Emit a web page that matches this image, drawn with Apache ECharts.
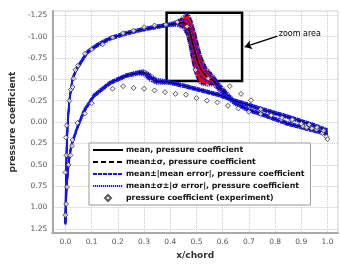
<!DOCTYPE html>
<html>
<head>
<meta charset="utf-8">
<script src="https://cdn.jsdelivr.net/npm/echarts@6/dist/echarts.min.js"></script>
<style>
  html, body { margin: 0; padding: 0; background: #fff; }
  #chart { width: 340px; height: 265px; }
</style>
</head>
<body>
<div id="chart"></div>
<script>
// upper surface (suction side)
const UPPER_X = [0, 0.002, 0.005, 0.009, 0.015, 0.027, 0.04, 0.059, 0.084, 0.121, 0.171, 0.233, 0.296, 0.358, 0.396, 0.427, 0.45, 0.464, 0.475, 0.483, 0.496, 0.508, 0.52, 0.539, 0.564, 0.589, 0.62, 0.645, 0.7, 0.75, 0.85, 0.95, 1.0]
const UPPER_CP = [1.18, 0.7, 0.3, 0.0, -0.25, -0.5, -0.61, -0.7, -0.82, -0.9, -0.98, -1.04, -1.086, -1.12, -1.14, -1.155, -1.165, -1.14, -1.05, -0.95, -0.8, -0.68, -0.6, -0.53, -0.49, -0.4, -0.305, -0.23, -0.14, -0.09, 0.02, 0.1, 0.14]
const UPPER_SIGMA = [0.003, 0.003, 0.003, 0.003, 0.003, 0.003, 0.003, 0.003, 0.003, 0.003, 0.003, 0.003, 0.003, 0.003, 0.003, 0.02, 0.06, 0.12, 0.18, 0.22, 0.23, 0.2, 0.15, 0.09, 0.05, 0.035, 0.025, 0.015, 0.005, 0.003, 0.003, 0.003, 0.003]
const UPPER_MEAN_ERR = [0.015, 0.015, 0.015, 0.015, 0.015, 0.015, 0.015, 0.015, 0.015, 0.015, 0.015, 0.015, 0.015, 0.015, 0.015, 0.015, 0.03, 0.06, 0.09, 0.11, 0.11, 0.1, 0.08, 0.05, 0.03, 0.02, 0.015, 0.015, 0.015, 0.015, 0.015, 0.015, 0.015]
const UPPER_SIGMA_ERR = [0.015, 0.015, 0.015, 0.015, 0.015, 0.015, 0.015, 0.015, 0.015, 0.015, 0.015, 0.015, 0.015, 0.015, 0.015, 0.015, 0.015, 0.015, 0.015, 0.015, 0.015, 0.015, 0.015, 0.015, 0.015, 0.015, 0.015, 0.015, 0.015, 0.015, 0.015, 0.015, 0.015]

// lower surface
const LOWER_X = [0, 0.004, 0.01, 0.015, 0.021, 0.027, 0.046, 0.071, 0.109, 0.171, 0.233, 0.283, 0.3, 0.32, 0.346, 0.396, 0.458, 0.52, 0.583, 0.62, 0.645, 0.7, 0.75, 0.85, 0.95, 1.0]
const LOWER_CP = [1.18, 0.8, 0.55, 0.42, 0.3, 0.23, 0.06, -0.13, -0.31, -0.46, -0.545, -0.58, -0.575, -0.53, -0.48, -0.465, -0.42, -0.37, -0.32, -0.28, -0.25, -0.2, -0.15, -0.06, 0.04, 0.1]
const LOWER_SIGMA = [0.003, 0.003, 0.003, 0.003, 0.003, 0.003, 0.003, 0.003, 0.003, 0.003, 0.003, 0.01, 0.02, 0.03, 0.02, 0.005, 0.003, 0.003, 0.003, 0.003, 0.003, 0.003, 0.003, 0.003, 0.003, 0.003]
const LOWER_MEAN_ERR = [0.015, 0.015, 0.015, 0.015, 0.015, 0.015, 0.015, 0.015, 0.015, 0.015, 0.015, 0.015, 0.015, 0.015, 0.015, 0.015, 0.015, 0.015, 0.015, 0.015, 0.015, 0.015, 0.015, 0.015, 0.015, 0.015]
const LOWER_SIGMA_ERR = [0.015, 0.015, 0.015, 0.015, 0.015, 0.015, 0.015, 0.015, 0.015, 0.015, 0.015, 0.015, 0.015, 0.015, 0.015, 0.015, 0.015, 0.015, 0.015, 0.015, 0.015, 0.015, 0.015, 0.015, 0.015, 0.015]

// experiment
const EXP_X = [0.0, 0.003, 0.006, 0.0, 0.012, 0.004, 0.019, 0.025, 0.027, 0.002, 0.005,
  0.015, 0.021, 0.027, 0.031, 0.038, 0.048, 0.075, 0.10, 0.142, 0.18, 0.22, 0.26, 0.30, 0.34, 0.383, 0.427, 0.464,
  0.496, 0.545, 0.627, 0.67, 0.708, 0.745, 0.783, 0.824, 0.864, 0.906, 0.92, 0.94, 0.958, 0.98, 0.996, 1.0,
  0.046, 0.074, 0.10, 0.18, 0.22, 0.26, 0.30, 0.34, 0.38, 0.42, 0.46, 0.50, 0.54, 0.58, 0.62, 0.66, 0.70, 0.745, 0.785, 0.826, 0.866, 0.90, 0.93, 0.96, 0.985]
const EXP_CP = [1.09, 0.96, 0.76, 0.59, 0.50, 0.39, 0.39, 0.28, 0.21, 0.18, 0.04,
  -0.25, -0.38, -0.41, -0.51, -0.61, -0.66, -0.80, -0.85, -0.91, -0.99, -1.04, -1.07, -1.11, -1.13, -1.14, -1.17, -1.12,
  -0.61, -0.51, -0.42, -0.33, -0.255, -0.15, -0.08, -0.03, -0.02, 0.05, 0.065, 0.076, 0.088, 0.13, 0.17, 0.2,
  0.01, -0.10, -0.22, -0.39, -0.42, -0.40, -0.39, -0.37, -0.35, -0.33, -0.32, -0.28, -0.25, -0.23, -0.19, -0.16, -0.12, -0.095, -0.08, -0.05, -0.03, 0.02, 0.03, 0.06, 0.1]

const X_TICKS = [0, 0.1, 0.2, 0.3, 0.4, 0.5, 0.6, 0.7, 0.8, 0.9, 1.0]
const Y_TICKS = [-1.25, -1.0, -0.75, -0.5, -0.25, 0, 0.25, 0.5, 0.75, 1.0, 1.25]

// zoom box corners and arrow (data coords)
const ZOOM_BOX = [[0.386, -1.28], [0.674, -0.48]]
const ARROW = [[0.809, -1.006], [0.684, -0.88]]

const N_MEAN = 'mean, pressure coefficient'
const N_SIG = 'mean±σ, pressure coefficient'
const N_ERR = 'mean±|mean error|, pressure coefficient'
const N_SERR = 'mean±σ±|σ error|, pressure coefficient'
const N_EXP = 'pressure coefficient (experiment)'

const FONT = 'DejaVu Sans'
const BLUE = '#1414ff'

function surface(xs, cp, sig, merr, serr) {
  const pts = f => xs.map((x, i) => [x, f(i)])
  const line = (name, data, color, type, width) => ({
    name: name,
    type: 'line',
    data: data,
    showSymbol: false,
    lineStyle: { color: color, type: type, width: width },
    itemStyle: { color: color },
    silent: true
  })
  return [
    {
      // red fill between mean-σ and mean+σ
      name: 'band',
      type: 'custom',
      silent: true,
      data: pts(i => cp[i]),
      encode: { x: 0, y: 1 },
      renderItem: (params, api) => {
        if (params.dataIndex !== 0) return null
        const top = xs.map((x, i) => api.coord([x, cp[i] + sig[i]]))
        const bot = xs.map((x, i) => api.coord([x, cp[i] - sig[i]])).reverse()
        return { type: 'polygon', shape: { points: top.concat(bot) }, style: { fill: '#ff0000' } }
      }
    },
    line(N_MEAN, pts(i => cp[i]), '#000', 'solid', 1.6),
    line(N_SIG, pts(i => cp[i] + sig[i]), '#000', [5, 3], 1.3),
    line(N_SIG, pts(i => cp[i] - sig[i]), '#000', [5, 3], 1.3),
    line(N_ERR, pts(i => cp[i] + merr[i]), BLUE, [4, 1], 1.8),
    line(N_ERR, pts(i => cp[i] - merr[i]), BLUE, [4, 1], 1.8),
    line(N_SERR, pts(i => cp[i] + sig[i] + serr[i]), BLUE, [1.2, 0.8], 1.4),
    line(N_SERR, pts(i => cp[i] - sig[i] - serr[i]), BLUE, [1.2, 0.8], 1.4)
  ]
}

const chart = echarts.init(document.getElementById('chart'))

const upper = surface(UPPER_X, UPPER_CP, UPPER_SIGMA, UPPER_MEAN_ERR, UPPER_SIGMA_ERR)
const lower = surface(LOWER_X, LOWER_CP, LOWER_SIGMA, LOWER_MEAN_ERR, LOWER_SIGMA_ERR)

// annotations ride on the upper mean line
upper[1].markArea = {
  silent: true,
  itemStyle: { color: 'rgba(0,0,0,0)', borderColor: '#000', borderWidth: 2.5 },
  data: [[{ coord: ZOOM_BOX[0] }, { coord: ZOOM_BOX[1] }]]
}
upper[1].markLine = {
  silent: true,
  symbol: ['none', 'arrow'],
  symbolSize: 7,
  lineStyle: { color: '#000', width: 1.5, type: 'solid' },
  label: { show: false },
  data: [[{ coord: ARROW[0] }, { coord: ARROW[1] }]]
}
upper[1].markPoint = {
  silent: true,
  symbol: 'circle',
  symbolSize: 0,
  label: {
    show: true, position: 'right', distance: 1, formatter: 'zoom area',
    color: '#000', fontFamily: FONT, fontSize: 8
  },
  data: [{ coord: [0.81, -1.03] }]
}

const series = upper.concat(lower).concat([
  {
    name: N_EXP,
    type: 'scatter',
    data: EXP_X.map((x, i) => [x, EXP_CP[i]]),
    symbol: 'diamond',
    symbolSize: 5,
    itemStyle: { color: '#f0f0f0', borderColor: '#333', borderWidth: 1 },
    z: 5,
    silent: true
  }
])

// legend line entries: keep the line, hide the symbol
const lineItem = name => ({ name: name, itemStyle: { opacity: 0 } })

chart.setOption({
  animation: false,
  backgroundColor: '#fff',
  grid: {
    left: 47, right: 2, top: 11, bottom: 26,
    show: true, borderColor: '#d0d0d0', borderWidth: 1
  },
  legend: {
    data: [
      lineItem(N_MEAN), lineItem(N_SIG), lineItem(N_ERR), lineItem(N_SERR),
      { name: N_EXP, icon: 'path://M5,0L10,5L5,10L0,5Z' }
    ],
    orient: 'vertical',
    left: 89,
    top: 143,
    padding: [3, 6, 3, 3],
    itemWidth: 30,
    itemHeight: 6,
    itemGap: 4,
    symbolKeepAspect: true,
    backgroundColor: '#fff',
    borderColor: '#999',
    borderWidth: 1,
    borderRadius: 0,
    selectedMode: false,
    textStyle: { fontFamily: FONT, fontSize: 7.8, fontWeight: 'bold', color: '#111', padding: [0, 0, 0, -2] }
  },
  xAxis: {
    type: 'value',
    min: -0.05,
    max: 1.04,
    name: 'x/chord',
    nameLocation: 'middle',
    nameGap: 17,
    nameTextStyle: { fontFamily: FONT, fontSize: 9, fontWeight: 'bold', color: '#333' },
    axisLine: { show: true, onZero: false, lineStyle: { color: '#aaa', width: 2 } },
    axisTick: { show: false, customValues: X_TICKS },
    axisLabel: {
      customValues: X_TICKS,
      margin: 5,
      fontFamily: FONT, fontSize: 7.5, color: '#555',
      formatter: v => v.toFixed(1)
    },
    splitLine: { show: true, lineStyle: { color: '#ccc', type: [1, 1], width: 1 } }
  },
  yAxis: {
    type: 'value',
    inverse: true,
    min: -1.3,
    max: 1.3,
    name: 'pressure coefficient',
    nameLocation: 'middle',
    nameGap: 27,
    nameTextStyle: { fontFamily: FONT, fontSize: 9, fontWeight: 'bold', color: '#333' },
    axisLine: { show: true, onZero: false, lineStyle: { color: '#aaa', width: 2 } },
    axisTick: { show: false, customValues: Y_TICKS },
    axisLabel: {
      customValues: Y_TICKS,
      margin: 5,
      fontFamily: FONT, fontSize: 7.5, color: '#555',
      formatter: v => v.toFixed(2)
    },
    splitLine: { show: true, lineStyle: { color: '#ccc', type: [1, 1], width: 1 } }
  },
  series: series
})
</script>
</body>
</html>
